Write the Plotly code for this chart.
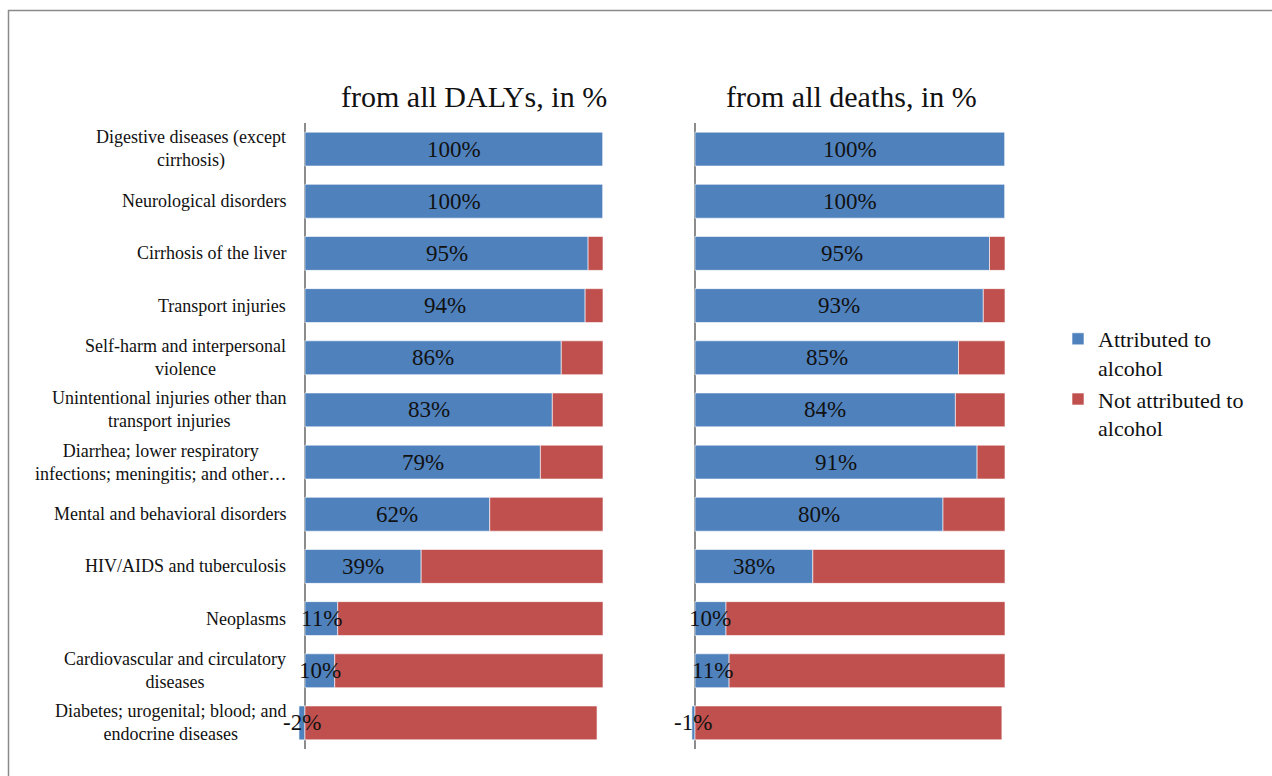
import plotly.graph_objects as go

# Burden categories, top to bottom
categories = [
    "Digestive diseases (except<br>cirrhosis)",
    "Neurological disorders",
    "Cirrhosis of the liver",
    "Transport injuries",
    "Self-harm and interpersonal<br>violence",
    "Unintentional injuries other than<br>transport injuries",
    "Diarrhea; lower respiratory<br>infections; meningitis; and other…",
    "Mental and behavioral disorders",
    "HIV/AIDS and tuberculosis",
    "Neoplasms",
    "Cardiovascular and circulatory<br>diseases",
    "Diabetes; urogenital; blood; and<br>endocrine diseases",
]

# Share of DALYs (%)
dalys_attr = [100, 100, 95, 94, 86, 83, 79, 62, 39, 11, 10, -2]
dalys_not = [0, 0, 5, 6, 14, 17, 21, 38, 61, 89, 90, 98]

# Share of deaths (%)
deaths_attr = [100, 100, 95, 93, 85, 84, 91, 80, 38, 10, 11, -1]
deaths_not = [0, 0, 5, 7, 15, 16, 9, 20, 62, 90, 89, 99]

panel_titles = ["from all DALYs, in %", "from all deaths, in %"]
series_names = ["Attributed to<br>alcohol", "Not attributed to<br>alcohol"]

BLUE = "#4F81BD"
RED = "#C0504D"
SERIF = "Liberation Serif, Times New Roman, serif"
INK = "#111111"
W, H = 1272, 776

fig = go.Figure()

panels = [(dalys_attr, dalys_not, "x", "y"), (deaths_attr, deaths_not, "x2", "y2")]
for i, (attr, notattr, xa, ya) in enumerate(panels):
    fig.add_trace(go.Bar(
        y=categories, x=attr, orientation="h", name=series_names[0],
        marker=dict(color=BLUE, line=dict(color="rgba(255,255,255,0.6)", width=1)),
        cliponaxis=False, showlegend=(i == 0), legendgroup="a",
        xaxis=xa, yaxis=ya, hoverinfo="skip",
    ))
    fig.add_trace(go.Bar(
        y=categories, x=notattr, orientation="h", name=series_names[1],
        marker=dict(color=RED, line=dict(color="rgba(255,255,255,0.6)", width=1)),
        cliponaxis=False, showlegend=(i == 0), legendgroup="b",
        xaxis=xa, yaxis=ya, hoverinfo="skip",
    ))
    # value labels centred on the attributed segment, drawn above both stacks
    for cat, v in zip(categories, attr):
        fig.add_annotation(
            x=v / 2, xref=xa, y=cat, yref=ya, text=f"{v}%", showarrow=False,
            xanchor="center", yanchor="middle",
            font=dict(family=SERIF, size=23, color=INK),
        )

# Plot-area placement in pixels
left_x = (293, 603)
right_x = (682.6, 1005)
top_px, bot_px = 123, 749
ydom = [(H - bot_px) / H, (H - top_px) / H]

xcommon = dict(range=[-4, 100], showticklabels=False, showgrid=False, showline=False,
               zeroline=True, zerolinecolor="#8c8c8c", zerolinewidth=1.5, fixedrange=True)
ycommon = dict(categoryorder="array", categoryarray=categories, range=[11.5, -0.5],
               showticklabels=False, showgrid=False, showline=False, zeroline=False)

fig.update_layout(
    width=W, height=H,
    margin=dict(l=0, r=0, t=0, b=0),
    paper_bgcolor="white", plot_bgcolor="white",
    barmode="relative", bargap=0.35,
    xaxis=dict(domain=[left_x[0] / W, left_x[1] / W], anchor="y", **xcommon),
    yaxis=dict(domain=ydom, anchor="x", **ycommon),
    xaxis2=dict(domain=[right_x[0] / W, right_x[1] / W], anchor="y2", **xcommon),
    yaxis2=dict(domain=ydom, anchor="x2", **ycommon),
    legend=dict(x=1058 / W, y=(H - 318) / H, xanchor="left", yanchor="top",
                font=dict(family=SERIF, size=22, color=INK),
                traceorder="normal", valign="top", itemwidth=30,
                bgcolor="rgba(0,0,0,0)"),
    font=dict(family=SERIF, color=INK),
)

# Category labels: block right-aligned next to the left panel,
# wrapped lines centred on one another
for cat in categories:
    fig.add_annotation(
        x=288 / W, xref="paper", y=cat, yref="y", text=cat, showarrow=False,
        xanchor="right", yanchor="middle", align="center",
        font=dict(family=SERIF, size=18, color=INK),
    )

# Panel headings
for title, cx in zip(panel_titles, (474, 851)):
    fig.add_annotation(
        x=cx / W, xref="paper", y=(H - 96) / H, yref="paper", text=title,
        showarrow=False, xanchor="center", yanchor="middle",
        font=dict(family=SERIF, size=30, color=INK),
    )

# Chart frame
fig.add_shape(type="rect", xref="paper", yref="paper",
              x0=8.5 / W, x1=1.02, y0=-0.02, y1=(H - 10.5) / H,
              line=dict(color="#8a8a8a", width=1.5), fillcolor="rgba(0,0,0,0)")

fig.write_html("out.html")
